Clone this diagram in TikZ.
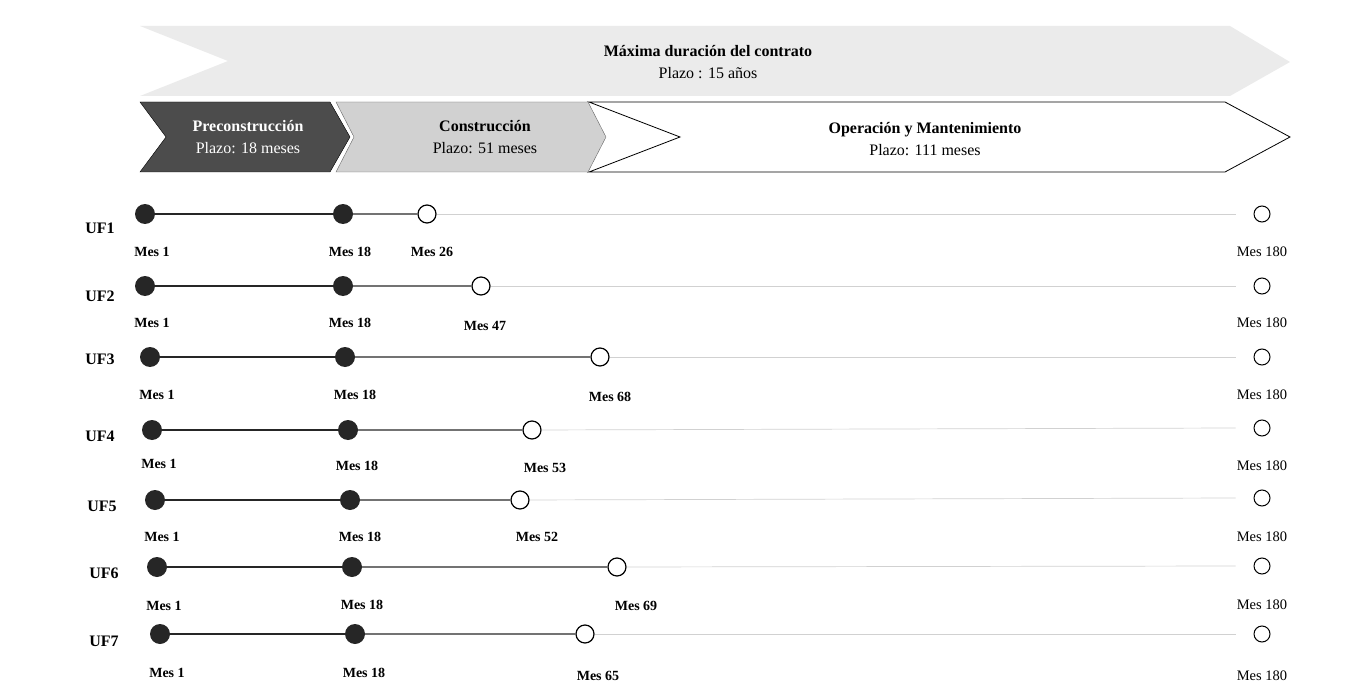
\documentclass[tikz,border=0pt]{standalone}
\usepackage{fontspec}
\setmainfont{Liberation Serif}
\usetikzlibrary{positioning}

\begin{document}
\begin{tikzpicture}[
  x=1pt, y=-1pt,
  lbl/.style={font=\fontsize{14}{16}\selectfont\bfseries, inner sep=1pt},
  endlbl/.style={font=\fontsize{14.5}{16}\selectfont, inner sep=1pt},
  uf/.style={font=\fontsize{16}{18}\selectfont\bfseries, inner sep=1pt},
  phase/.style={font=\fontsize{16}{22}\selectfont, align=center, inner sep=1pt},
  hito/.style={circle, fill=black!85, minimum size=20pt, inner sep=0pt},
  fin/.style={circle, draw, fill=white, line width=1.2pt, minimum size=18pt, inner sep=0pt},
  fin180/.style={circle, draw, fill=white, line width=1pt, minimum size=16pt, inner sep=0pt},
  tramo1/.style={line width=2.2pt, black!85},
  tramo2/.style={line width=1.4pt, black!55},
  tramo3/.style={line width=0.7pt, black!18}
]
\useasboundingbox (0,0) rectangle (1350,698);

% contract arrow
\fill[black!8] (140,26) -- (1230,26) -- (1290,62) -- (1230,96) -- (140,96) -- (228,61) -- cycle;
\node[phase] (contrato) at (708,62) {\textbf{Máxima duración del contrato}\\Plazo : 15 años};

% phases
\filldraw[fill=black!70, draw=black] (140,102) -- (330,102) -- (350,137) -- (330,172) -- (140,172) -- (166,137) -- cycle;
\filldraw[fill=black!18, draw=black!60] (336,102) -- (588,102) -- (606,137) -- (588,172) -- (336,172) -- (354,137) -- cycle;
\filldraw[fill=white, draw=black, line width=0.8pt] (589,102) -- (1225,102) -- (1290,137) -- (1225,172) -- (589,172) -- (680,137) -- cycle;
\node[phase, text=white] (pre) at (248,137) {\textbf{Preconstrucción}\\Plazo: 18 meses};
\node[phase] (cons) at (485,137) {\textbf{Construcción}\\Plazo: 51 meses};
\node[phase] (om) at (925,139) {\textbf{Operación y Mantenimiento}\\Plazo: 111 meses};

% UF1
\node[uf] (uf1) at (100,228) {UF1};
\node[hito] (a1) at (145,214) {};
\node[hito] (b1) at (343,214) {};
\node[fin] (c1) at (427,214) {};
\node[fin180] (d1) at (1262,214) {};
\node[lbl] (la1) at (152,252) {Mes 1};
\node[lbl] (lb1) at (350,252) {Mes 18};
\node[lbl] (lc1) at (432,252) {Mes 26};
\node[endlbl] (ld1) at (1262,252) {Mes 180};
\draw[tramo1] (a1) -- (b1);
\draw[tramo2] (b1) -- (c1);
\draw[tramo3] (c1) -- ([xshift=-18pt]d1.west);

% UF2
\node[uf] (uf2) at (100,296) {UF2};
\node[hito] (a2) at (145,286) {};
\node[hito] (b2) at (343,286) {};
\node[fin] (c2) at (481,286) {};
\node[fin180] (d2) at (1262,286) {};
\node[lbl] (la2) at (152,323) {Mes 1};
\node[lbl] (lb2) at (350,323) {Mes 18};
\node[lbl] (lc2) at (485,326) {Mes 47};
\node[endlbl] (ld2) at (1262,323) {Mes 180};
\draw[tramo1] (a2) -- (b2);
\draw[tramo2] (b2) -- (c2);
\draw[tramo3] (c2) -- ([xshift=-18pt]d2.west);

% UF3
\node[uf] (uf3) at (100,359) {UF3};
\node[hito] (a3) at (150,357) {};
\node[hito] (b3) at (345,357) {};
\node[fin] (c3) at (600,357) {};
\node[fin180] (d3) at (1262,357) {};
\node[lbl] (la3) at (157,395) {Mes 1};
\node[lbl] (lb3) at (355,395) {Mes 18};
\node[lbl] (lc3) at (610,397) {Mes 68};
\node[endlbl] (ld3) at (1262,395) {Mes 180};
\draw[tramo1] (a3) -- (b3);
\draw[tramo2] (b3) -- (c3);
\draw[tramo3] (c3) -- ([xshift=-18pt]d3.west);

% UF4
\node[uf] (uf4) at (100,436) {UF4};
\node[hito] (a4) at (152,430) {};
\node[hito] (b4) at (348,430) {};
\node[fin] (c4) at (532,430) {};
\node[fin180] (d4) at (1262,428) {};
\node[lbl] (la4) at (159,464) {Mes 1};
\node[lbl] (lb4) at (357,466) {Mes 18};
\node[lbl] (lc4) at (545,468) {Mes 53};
\node[endlbl] (ld4) at (1262,466) {Mes 180};
\draw[tramo1] (a4) -- (b4);
\draw[tramo2] (b4) -- (c4);
\draw[tramo3] (c4) -- ([xshift=-18pt]d4.west);

% UF5
\node[uf] (uf5) at (102,506) {UF5};
\node[hito] (a5) at (155,500) {};
\node[hito] (b5) at (350,500) {};
\node[fin] (c5) at (520,500) {};
\node[fin180] (d5) at (1262,498) {};
\node[lbl] (la5) at (162,537) {Mes 1};
\node[lbl] (lb5) at (360,537) {Mes 18};
\node[lbl] (lc5) at (537,537) {Mes 52};
\node[endlbl] (ld5) at (1262,537) {Mes 180};
\draw[tramo1] (a5) -- (b5);
\draw[tramo2] (b5) -- (c5);
\draw[tramo3] (c5) -- ([xshift=-18pt]d5.west);

% UF6
\node[uf] (uf6) at (104,573) {UF6};
\node[hito] (a6) at (157,567) {};
\node[hito] (b6) at (352,567) {};
\node[fin] (c6) at (617,567) {};
\node[fin180] (d6) at (1262,566) {};
\node[lbl] (la6) at (164,606) {Mes 1};
\node[lbl] (lb6) at (362,605) {Mes 18};
\node[lbl] (lc6) at (636,606) {Mes 69};
\node[endlbl] (ld6) at (1262,605) {Mes 180};
\draw[tramo1] (a6) -- (b6);
\draw[tramo2] (b6) -- (c6);
\draw[tramo3] (c6) -- ([xshift=-18pt]d6.west);

% UF7
\node[uf] (uf7) at (104,641) {UF7};
\node[hito] (a7) at (160,634) {};
\node[hito] (b7) at (355,634) {};
\node[fin] (c7) at (585,634) {};
\node[fin180] (d7) at (1262,634) {};
\node[lbl] (la7) at (167,673) {Mes 1};
\node[lbl] (lb7) at (364,673) {Mes 18};
\node[lbl] (lc7) at (598,676) {Mes 65};
\node[endlbl] (ld7) at (1262,676) {Mes 180};
\draw[tramo1] (a7) -- (b7);
\draw[tramo2] (b7) -- (c7);
\draw[tramo3] (c7) -- ([xshift=-18pt]d7.west);
\end{tikzpicture}
\end{document}
